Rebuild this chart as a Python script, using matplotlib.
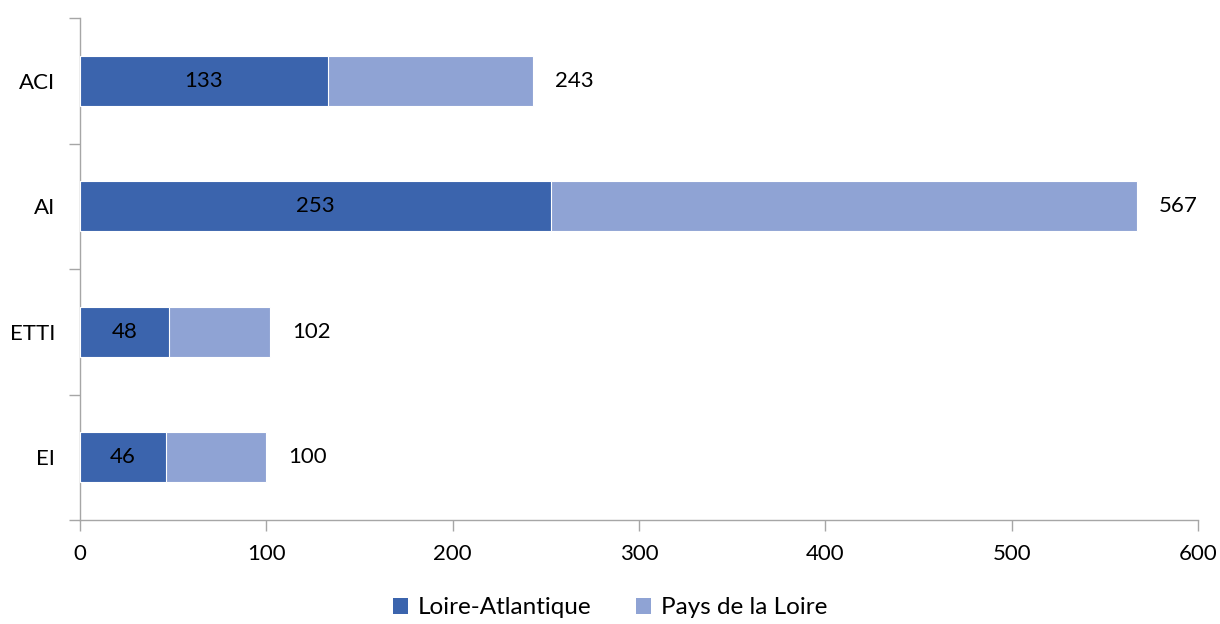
import numpy as np
import matplotlib.pyplot as plt
from matplotlib.patches import Patch

plt.rcParams['font.family'] = ['Lato', 'DejaVu Sans']

# counts per structure type
categories = ['ACI', 'AI', 'ETTI', 'EI']
loire_atlantique = [133, 253, 48, 46]
pays_de_la_loire = [243, 567, 102, 100]

dark = '#3B64AD'
light = '#8FA3D4'
grey = '#A6A6A6'
fs = 16

fig = plt.figure(figsize=(12.2, 6.24), dpi=100)
ax = fig.add_axes([80 / 1220, 1 - 520 / 624, 1118 / 1220, 502 / 624])

y = np.arange(len(categories))
h = 0.4

# regional total behind, department on top
ax.barh(y, pays_de_la_loire, height=h, color=light, edgecolor='white', linewidth=0.8, zorder=2)
ax.barh(y, loire_atlantique, height=h, color=dark, edgecolor='white', linewidth=0.8, zorder=3)

for yi, v in zip(y, loire_atlantique):
    ax.text(v / 2, yi, str(v), ha='center', va='center', fontsize=fs, color='black', zorder=4)
for yi, v in zip(y, pays_de_la_loire):
    ax.text(v + 12, yi, str(v), ha='left', va='center', fontsize=fs, color='black', zorder=4)

ax.set_xlim(0, 600)
ax.set_ylim(len(categories) - 0.5, -0.5)
ax.set_xticks(np.arange(0, 601, 100))
ax.tick_params(axis='x', labelsize=fs, length=8, width=1, color=grey, pad=9)

# category names between boundary ticks
ax.set_yticks(y)
ax.set_yticklabels(categories)
ax.tick_params(axis='y', which='major', length=0, labelsize=fs, pad=18)
ax.set_yticks(np.arange(-0.5, len(categories)), minor=True)
ax.tick_params(axis='y', which='minor', length=8, width=1, color=grey)

for s in ['top', 'right']:
    ax.spines[s].set_visible(False)
for s in ['left', 'bottom']:
    ax.spines[s].set_color(grey)
    ax.spines[s].set_linewidth(1)

handles = [Patch(facecolor=dark, label='Loire-Atlantique'),
           Patch(facecolor=light, label='Pays de la Loire')]
fig.legend(handles=handles, loc='center', bbox_to_anchor=(0.5, 1 - 608 / 624), ncol=2,
           frameon=False, fontsize=17.5, handlelength=0.65, handleheight=0.65,
           handletextpad=0.4, columnspacing=1.8)

fig.savefig('out.png', dpi=100)
